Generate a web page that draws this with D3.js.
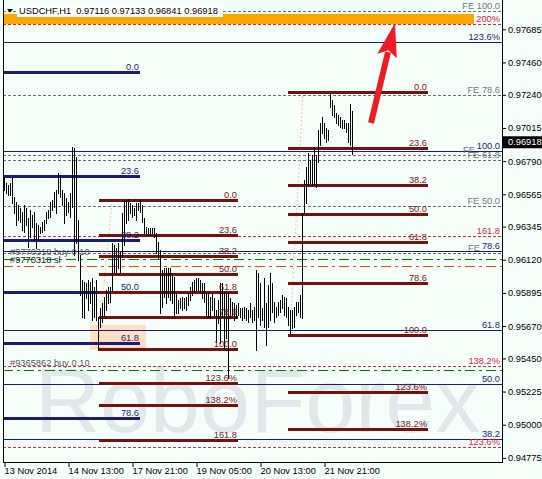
<!DOCTYPE html>
<html><head><meta charset="utf-8">
<script src="https://cdn.jsdelivr.net/npm/d3@7"></script>
<style>body{margin:0;background:#F5FFFA;} svg{display:block}</style>
</head><body>
<svg id="c" width="542" height="479"></svg>
<script>
// ---------- data ----------
const symbolTitle = "USDCHF,H1";
const lastOHLC = [0.97116, 0.97133, 0.96841, 0.96918];

const highs = [
 0.96682,0.96642,0.96628,0.96642,0.96676,0.96546,0.96512,0.96492,0.96472,0.96444,
 0.96492,0.96472,0.96404,0.96458,0.96424,0.96444,0.96370,0.96356,0.96342,0.96376,
 0.96390,0.96444,0.96458,0.96512,0.96526,0.96580,0.96594,0.96710,0.96696,0.96594,
 0.96574,0.96540,0.96512,0.96574,0.96886,0.96879,0.96818,0.96390,0.96153,0.95983,
 0.95969,0.95963,0.95983,
 0.95969,0.95997,0.95935,0.95983,0.95731,0.95793,0.95827,0.95867,0.95915,0.95935,
 0.95935,0.96234,0.96221,0.96200,0.96234,0.96173,0.96438,0.96526,0.96526,0.96533,
 0.96506,0.96492,0.96472,0.96506,0.96506,0.96526,0.96492,0.96404,0.96342,0.96336,
 0.96336,0.96336,0.96336,0.96302,0.96240,0.96187,0.96051,0.96064,0.96064,0.96064,
 0.96064,0.96031,0.96004,0.95901,
 0.95847,0.95861,0.95867,0.95861,0.95867,0.95894,0.95935,0.95969,0.95983,0.95997,
 0.95997,0.95983,0.95963,0.95963,0.95894,0.95901,0.95867,0.95894,0.95861,0.95779,
 0.95847,0.95963,0.95963,0.95901,0.95894,0.95901,0.95861,0.95833,0.95827,0.95813,
 0.95827,0.95793,0.95793,0.95800,0.95793,0.95779,0.95827,0.95779,0.95800,0.96051,
 0.96031,0.95963,0.95793,0.95997,0.95827,
 0.95949,0.96031,0.95963,0.95833,0.95800,0.95833,0.95847,0.95881,0.95867,0.95861,
 0.95800,0.95779,0.95779,0.95800,0.95833,0.95833,0.95881,0.96438,0.96662,0.96750,
 0.96845,0.96798,0.96832,0.96886,0.96832,0.97001,0.97049,0.97090,0.97049,0.97015,
 0.97001,0.97259,0.97205,0.97171,0.97117,0.97103,0.97090,0.97069,0.97069,0.97049,
 0.97049,0.97178,0.97133
];
const lows = [
 0.96594,0.96574,0.96560,0.96560,0.96506,0.96438,0.96356,0.96390,0.96376,0.96322,
 0.96308,0.96356,0.96206,0.96274,0.96342,0.96254,0.96200,0.96254,0.96302,0.96308,
 0.96322,0.96370,0.96404,0.96410,0.96458,0.96478,0.96438,0.96574,0.96546,0.96492,
 0.96370,0.96424,0.96444,0.96410,0.96478,0.96153,0.96234,0.96119,0.95881,0.95731,
 0.95724,0.95861,0.95779,
 0.95827,0.95711,0.95731,0.95711,0.95508,0.95663,0.95697,0.95745,0.95779,0.95827,
 0.95833,0.95915,0.96037,0.96031,0.96064,0.96031,0.96139,0.96221,0.96370,0.96390,
 0.96438,0.96410,0.96424,0.96390,0.96458,0.96444,0.96376,0.96302,0.96288,0.96288,
 0.96288,0.96302,0.96274,0.96166,0.96132,0.95759,0.95800,0.95867,0.95827,0.95867,
 0.95847,0.95827,0.95724,0.95759,
 0.95759,0.95793,0.95779,0.95793,0.95779,0.95813,0.95847,0.95881,0.95901,0.95915,
 0.95915,0.95894,0.95861,0.95833,0.95724,0.95731,0.95724,0.95779,0.95745,0.95561,
 0.95691,0.95555,0.95731,0.95521,0.95589,0.95318,0.95724,0.95745,0.95711,0.95724,
 0.95745,0.95731,0.95711,0.95724,0.95711,0.95697,0.95731,0.95697,0.95711,0.95508,
 0.95731,0.95677,0.95711,0.95663,0.95541,
 0.95663,0.95711,0.95765,0.95697,0.95731,0.95745,0.95765,0.95793,0.95745,0.95731,
 0.95677,0.95623,0.95657,0.95663,0.95745,0.95765,0.95731,0.95724,0.96438,0.96506,
 0.96628,0.96642,0.96628,0.96628,0.96614,0.96784,0.96900,0.96981,0.96947,0.96920,
 0.96933,0.97157,0.97103,0.97090,0.97049,0.97035,0.97022,0.97015,0.97015,0.96988,
 0.96920,0.96900,0.96841
];

const xTickIndex = [0, 32, 64, 96, 128, 160];
const xTickLabels = ["13 Nov 2014","14 Nov 13:00","17 Nov 21:00","19 Nov 05:00","20 Nov 13:00","21 Nov 21:00"];
const yTickValues = [0.97685,0.97460,0.97240,0.97015,0.96790,0.96565,0.96345,0.96120,0.95895,0.95670,0.95450,0.95225,0.95000,0.94775];

// Fibonacci retracement (navy, left)
const navyFibLabels = ["0.0","23.6","38.2","50.0","61.8","78.6"];
const navyFibPrices = [0.97395,0.96689,0.96254,0.95901,0.95555,0.95046];
const navyFibSpan = [0, 68];
// Fibonacci retracement (maroon, middle)
const midFibLabels = ["0.0","23.6","38.2","50.0","61.8","78.6","100.0","123.6%","138.2%","161.8"];
const midFibPrices = [0.96526,0.96288,0.96146,0.96024,0.95901,0.95732,0.95514,0.95283,0.95134,0.94893];
const midFibSpan = [47.5, 117];
const midFibDiag = [[54, 0.96526],[47, 0.95514]];
// Fibonacci retracement (maroon, right)
const rightFibLabels = ["0.0","23.6","38.2","50.0","61.8","78.6","100.0","123.6%","138.2%"];
const rightFibPrices = [0.97259,0.96876,0.96628,0.96434,0.96241,0.95965,0.95606,0.95219,0.94971];
const rightFibSpan = [142, 212];
const rightFibDiag = [[149.5, 0.97259],[143, 0.95606]];
// full-width levels
const navyLineLabels = ["123.6%","100.0","78.6","61.8","50.0","38.2"];
const navyLinePrices = [0.97599,0.96859,0.96180,0.95643,0.95277,0.94903];
const redLineLabels = ["200%","161.8","138.2%","123.6%"];
const redLinePrices = [0.97721,0.96282,0.95399,0.94849];
const feLabels = ["FE 100.0","FE 78.6","FE","FE 61.8","FE 50.0","FE"];
const fePrices = [0.97809,0.97239,0.96832,0.96798,0.96485,0.96166];
// orders
const orderLabels = ["#9770318 buy 0.10","#9770318 sl","#9365862 buy 0.10"];
const orderPrices = [0.96127,0.96078,0.95372];
const orderColors = ["#008000","#FF4500","#008000"];
// zones / annotations
const targetBand = [0.97789, 0.97721];
const targetBandSpan = [0, 235];
const highlightBox = {span:[43, 71], prices:[0.95677, 0.95508]};
const arrowFrom = [183.5, 0.97049], arrowTo = [195.5, 0.97728];

// ---------- drawing ----------
const FONT = '"Liberation Sans", Arial, sans-serif';
const FS = 9.3;
const svg = d3.select('#c');
const left = 3, right = 502, bottom = 462;
const x = d3.scaleLinear().domain([0, 174]).range([4, 352]);
const y = d3.scaleLinear().domain([0.94747, 0.97884]).range([462, 0]);
const py = p => Math.round(y(p)) + 0.5;

svg.append('rect').attr('width',542).attr('height',479).attr('fill','#F5FFFA');
svg.append('defs').append('clipPath').attr('id','plot')
  .append('rect').attr('x',left+1).attr('y',0).attr('width',right-left-1).attr('height',bottom);
const plot = svg.append('g').attr('clip-path','url(#plot)');

// watermark
plot.append('text').attr('x',35).attr('y',432).text('RoboForex')
  .attr('font-family',FONT).attr('font-size',90).attr('fill','#e0e8ea');
plot.append('text').attr('x',248).attr('y',445).text('ИСПОЛЬЗУЙ РОБОТОВ — ПОЛУЧАЙ ПРИБЫЛЬ')
  .attr('font-family',FONT).attr('font-size',8.5).attr('fill','#e6ecee').attr('letter-spacing',0.6);

// highlight box
plot.append('rect')
  .attr('x',x(highlightBox.span[0])).attr('width',x(highlightBox.span[1])-x(highlightBox.span[0]))
  .attr('y',y(highlightBox.prices[0])).attr('height',y(highlightBox.prices[1])-y(highlightBox.prices[0]))
  .attr('fill','#FDDFC2');

// target band
plot.append('rect')
  .attr('x',x(targetBandSpan[0])).attr('width',x(targetBandSpan[1])-x(targetBandSpan[0]))
  .attr('y',y(targetBand[0])).attr('height',y(targetBand[1])-y(targetBand[0]))
  .attr('fill','#FFA500');

function fullLines(prices, color, dash, width){
  plot.append('g').selectAll('line').data(prices).join('line')
    .attr('x1',left).attr('x2',right).attr('y1',py).attr('y2',py)
    .attr('stroke',color).attr('stroke-width',width||1)
    .attr('stroke-dasharray',dash||null).attr('shape-rendering','crispEdges');
}
function rightLabels(prices, labels, color, xr){
  plot.append('g').selectAll('text').data(prices).join('text')
    .attr('x',xr).attr('y',d=>Math.round(y(d))-2).attr('text-anchor','end')
    .text((d,i)=>labels[i]).attr('font-family',FONT).attr('font-size',FS).attr('fill',color);
}

fullLines(fePrices, '#6e6e6e', '3,2');
fullLines(redLinePrices, '#F0203C', '3,2');
fullLines(navyLinePrices, '#1c1c78');
orderPrices.forEach((p,i)=>fullLines([p], orderColors[i], '10,4,3,4'));

// fib diagonals
[midFibDiag, rightFibDiag].forEach(dg=>{
  plot.append('line').attr('x1',x(dg[0][0])).attr('y1',y(dg[0][1]))
    .attr('x2',x(dg[1][0])).attr('y2',y(dg[1][1]))
    .attr('stroke','#F8C89A').attr('stroke-dasharray','2,2');
});

function fibSegs(prices, span, color, width){
  plot.append('g').selectAll('line').data(prices).join('line')
    .attr('x1',x(span[0])).attr('x2',x(span[1])).attr('y1',py).attr('y2',py)
    .attr('stroke',color).attr('stroke-width',width).attr('shape-rendering','crispEdges');
}
fibSegs(navyFibPrices, navyFibSpan, '#1c1c78', 3);
fibSegs(midFibPrices, midFibSpan, '#7a0f0f', 3);
fibSegs(rightFibPrices, rightFibSpan, '#7a0f0f', 3);

// bars
plot.append('g').selectAll('line').data(highs).join('line')
  .attr('x1',(d,i)=>Math.round(x(i))+0.5).attr('x2',(d,i)=>Math.round(x(i))+0.5)
  .attr('y1',d=>Math.round(y(d))).attr('y2',(d,i)=>Math.round(y(lows[i]))+1)
  .attr('stroke','#000').attr('stroke-width',1).attr('shape-rendering','crispEdges');

// labels
rightLabels(navyFibPrices, navyFibLabels, '#1c1c78', x(navyFibSpan[1])-1);
rightLabels(midFibPrices, midFibLabels, '#7a1a1a', x(midFibSpan[1])-1);
rightLabels(rightFibPrices, rightFibLabels, '#7a1a1a', x(rightFibSpan[1])-1);
rightLabels(redLinePrices, redLineLabels, '#E8204A', 500);
rightLabels(navyLinePrices, navyLineLabels, '#1c1c78', 500);
plot.append('g').selectAll('text').data(fePrices).join('text')
  .attr('x',(d,i)=>feLabels[i]==='FE' ? (i===2 ? 463 : 468) : 500)
  .attr('text-anchor',(d,i)=>feLabels[i]==='FE' ? 'start' : 'end')
  .attr('y',d=>Math.round(y(d))-2).text((d,i)=>feLabels[i])
  .attr('font-family',FONT).attr('font-size',FS).attr('fill','#777');
plot.append('g').selectAll('text').data(orderPrices).join('text')
  .attr('x',10).attr('y',(d,i)=>Math.round(y(d))-(i===1?3:4)).text((d,i)=>orderLabels[i])
  .attr('font-family',FONT).attr('font-size',FS).attr('fill',(d,i)=>i===1?'#222':'#555');

// arrow
(function(){
  const sx=x(arrowFrom[0]), sy=y(arrowFrom[1]), tx=x(arrowTo[0]), ty=y(arrowTo[1]);
  const L=Math.hypot(tx-sx,ty-sy), ux=(tx-sx)/L, uy=(ty-sy)/L;
  const hl=34, hw=10, bx=tx-ux*hl, by=ty-uy*hl;
  plot.append('line').attr('x1',sx).attr('y1',sy).attr('x2',bx+ux*4).attr('y2',by+uy*4)
    .attr('stroke','#EC1C24').attr('stroke-width',6);
  plot.append('path').attr('d',`M${tx},${ty}L${bx-uy*hw},${by+ux*hw}L${bx+ux*6},${by+uy*6}L${bx+uy*hw},${by-ux*hw}Z`)
    .attr('fill','#EC1C24');
})();

// axes
const ya = svg.append('g').attr('transform',`translate(${right},0)`)
  .call(d3.axisRight(y).tickValues(yTickValues).tickSize(4).tickSizeOuter(0).tickPadding(2).tickFormat(d3.format('.5f')));
ya.select('.domain').remove();
ya.selectAll('text').attr('font-family',FONT).attr('font-size',FS).attr('fill','#000');
ya.selectAll('line').attr('stroke','#000');

const xa = svg.append('g').attr('transform',`translate(0,${bottom})`)
  .call(d3.axisBottom(x).tickValues(xTickIndex).tickSize(5).tickSizeOuter(0).tickFormat((d,i)=>xTickLabels[i]));
xa.select('.domain').remove();
xa.selectAll('line').attr('stroke','#000').attr('transform','translate(0.5,0)');
xa.selectAll('text').attr('text-anchor','start').attr('x',0).attr('y',5).attr('dy','0.71em')
  .attr('font-family',FONT).attr('font-size',FS).attr('fill','#000');

// frame
svg.append('line').attr('x1',left+0.5).attr('x2',left+0.5).attr('y1',0).attr('y2',bottom+0.5).attr('stroke','#000');
svg.append('line').attr('x1',right+0.5).attr('x2',right+0.5).attr('y1',0).attr('y2',bottom+0.5).attr('stroke','#000');
svg.append('line').attr('x1',left).attr('x2',right+1).attr('y1',bottom+0.5).attr('y2',bottom+0.5).attr('stroke','#000');

// current price box
const cy = y(lastOHLC[3]);
svg.append('rect').attr('x',right+1).attr('y',cy-6).attr('width',40).attr('height',12).attr('fill','#000');
svg.append('text').attr('x',right+6).attr('y',cy).attr('dy','0.34em').text(d3.format('.5f')(lastOHLC[3]))
  .attr('font-family',FONT).attr('font-size',FS).attr('fill','#fff');

// title
svg.append('rect').attr('x',17).attr('y',5).attr('width',206).attr('height',12).attr('fill','#fff');
svg.append('path').attr('d','M7,9L13,9L10,12.5Z').attr('fill','#000');
svg.append('text').attr('x',19).attr('y',14).style('white-space','pre')
  .text(symbolTitle + '  ' + lastOHLC.map(d3.format('.5f')).join(' '))
  .attr('font-family',FONT).attr('font-size',FS).attr('fill','#000');
</script>
</body></html>
